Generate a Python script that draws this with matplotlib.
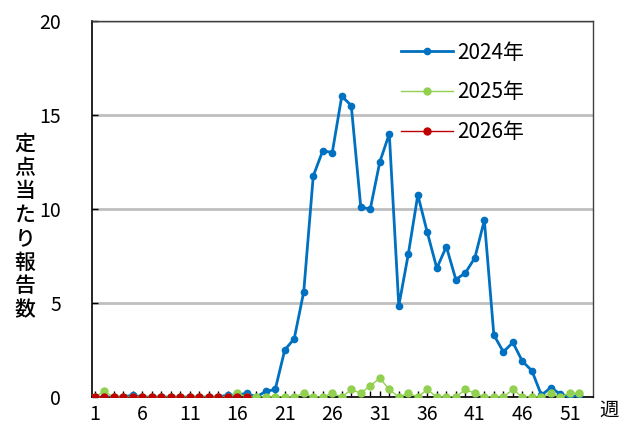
import numpy as np
import matplotlib.pyplot as plt

plt.rcParams['font.family'] = ['Noto Sans CJK JP', 'DejaVu Sans']

weeks = np.arange(1, 53)

# 定点当たり報告数 (週別)
y2024 = [0, 0, 0, 0, 0.1, 0, 0, 0, 0, 0,
         0, 0, 0, 0, 0.1, 0.1, 0.2, 0, 0.3, 0.4,
         2.5, 3.1, 5.6, 11.75, 13.1, 13.0, 16.0, 15.5, 10.1, 10.0,
         12.5, 14.0, 4.85, 7.6, 10.75, 8.75, 6.85, 8.0, 6.25, 6.6,
         7.4, 9.4, 3.3, 2.4, 2.9, 1.9, 1.4, 0.1, 0.5, 0.15,
         0, 0.1]
y2025 = [0, 0.3, 0, 0, 0, 0, 0, 0, 0, 0,
         0, 0, 0, 0, 0, 0.2, 0, 0, 0, 0,
         0, 0, 0.2, 0, 0, 0.2, 0, 0.4, 0.2, 0.6,
         1.0, 0.4, 0, 0.2, 0, 0.4, 0, 0, 0, 0.4,
         0.2, 0, 0, 0, 0.4, 0, 0, 0, 0.2, 0,
         0.2, 0.2]
y2026 = [0] * 17

labels = ['2024年', '2025年', '2026年']
colors = ['#0070C0', '#92D050', '#C00000']

fig = plt.figure(figsize=(6.2, 4.28), dpi=100)
ax = fig.add_axes([0.148, 0.0724, 0.808, 0.8786])

ax.plot(weeks, y2024, color=colors[0], lw=2.0, marker='o', ms=4.5, label=labels[0], zorder=3)
ax.plot(weeks, y2025, color=colors[1], lw=1.0, marker='o', ms=5, label=labels[1], zorder=4)
ax.plot(weeks[:len(y2026)], y2026, color=colors[2], lw=1.0, marker='o', ms=5, label=labels[2], zorder=5)

ax.set_xlim(0.7, 53.4)
ax.set_ylim(0, 20)
ax.set_yticks([0, 5, 10, 15, 20])
ax.set_xticks(np.arange(1, 53, 5))
ax.set_xticks(weeks, minor=True)
ax.yaxis.grid(True, color='#BFBFBF', lw=2)
ax.set_axisbelow(True)

ax.tick_params(axis='both', which='both', direction='in', labelsize=14, colors='black')
ax.tick_params(axis='x', which='both', length=4, width=1, pad=5)
ax.tick_params(axis='y', length=4, width=1, pad=22)

for s in ['left', 'bottom']:
    ax.spines[s].set_color('black')
    ax.spines[s].set_linewidth(1.2)
for s in ['top', 'right']:
    ax.spines[s].set_color('#404040')
    ax.spines[s].set_linewidth(1.0)

ax.legend(loc='upper left', bbox_to_anchor=(0.58, 0.995), frameon=False,
          fontsize=15, labelspacing=0.85, handlelength=2.5, handletextpad=0.2)

fig.text(25 / 620, 1 - 227 / 428, '\n'.join('定点当たり報告数'), fontsize=15,
         fontweight='medium', ha='center', va='center', linespacing=1.1)
fig.text(619 / 620, 1 - 410 / 428, '週', fontsize=14, ha='right', va='center')

fig.savefig('out.png', dpi=100)
